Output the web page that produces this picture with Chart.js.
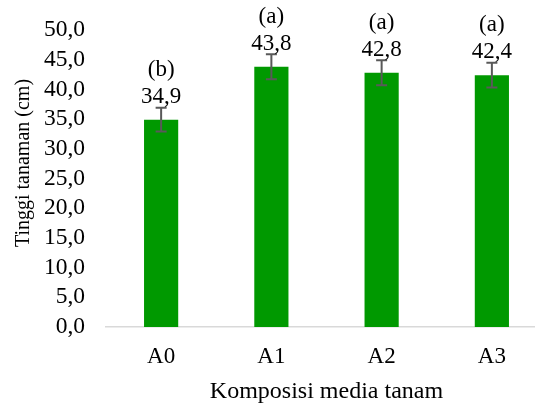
<!DOCTYPE html>
<html>
<head>
<meta charset="utf-8">
<script src="https://cdn.jsdelivr.net/npm/chart.js@4/dist/chart.umd.min.js"></script>
<style>
  body { margin: 0; background: #fff; overflow: hidden; }
  #wrap { width: 535px; height: 403px; overflow: hidden; }
</style>
</head>
<body>
<div id="wrap"><canvas id="heightChart" width="547" height="403"></canvas></div>
<script>
// data
const categories = ['A0', 'A1', 'A2', 'A3'];
const heights = [34.9, 43.8, 42.8, 42.4];
const errors = [2.0, 2.1, 2.1, 2.1];
const letters = ['(b)', '(a)', '(a)', '(a)'];
const yTitle = 'Tinggi tanaman (cm)';
const xTitle = 'Komposisi media tanam';

const serif = '"Liberation Serif", "Times New Roman", serif';
const comma = v => v.toFixed(1).replace('.', ',');

// error bars + labels above bars
const barExtras = {
    id: 'barExtras',
    afterDatasetsDraw(chart) {
        const ctx = chart.ctx;
        const y = chart.scales.y;
        const meta = chart.getDatasetMeta(0);
        ctx.save();
        ctx.strokeStyle = '#595959';
        ctx.lineWidth = 2;
        meta.data.forEach((bar, i) => {
            const top = y.getPixelForValue(heights[i] + errors[i]);
            const bot = y.getPixelForValue(heights[i] - errors[i]);
            ctx.beginPath();
            ctx.moveTo(bar.x, top); ctx.lineTo(bar.x, bot);
            ctx.moveTo(bar.x - 5.5, top); ctx.lineTo(bar.x + 5.5, top);
            ctx.moveTo(bar.x - 5.5, bot); ctx.lineTo(bar.x + 5.5, bot);
            ctx.stroke();
        });
        ctx.fillStyle = '#000';
        ctx.textAlign = 'center';
        ctx.textBaseline = 'alphabetic';
        ctx.font = '23px ' + serif;
        meta.data.forEach((bar, i) => {
            ctx.fillText(comma(heights[i]), bar.x, bar.y - 17);
            ctx.fillText(letters[i], bar.x, bar.y - 44);
        });
        // y axis title
        ctx.font = '20px ' + serif;
        ctx.textBaseline = 'middle';
        ctx.translate(24, 163);
        ctx.rotate(-Math.PI / 2);
        ctx.fillText(yTitle, 0, 0);
        ctx.restore();
    }
};

new Chart(document.getElementById('heightChart').getContext('2d'), {
    type: 'bar',
    data: {
        labels: categories,
        datasets: [{
            data: heights,
            backgroundColor: '#009900',
            borderWidth: 0,
            barPercentage: 0.31,
            categoryPercentage: 1
        }]
    },
    options: {
        responsive: false,
        animation: false,
        layout: { padding: { top: 30, left: 0, right: 0, bottom: 0 } },
        plugins: { legend: { display: false }, tooltip: { enabled: false } },
        scales: {
            x: {
                grid: { display: false, drawTicks: false },
                border: { display: true, color: '#d9d9d9', width: 1.5 },
                ticks: { color: '#000', padding: 16, font: { family: serif, size: 23 } },
                title: {
                    display: true, text: xTitle, color: '#000',
                    font: { family: serif, size: 24, lineHeight: 0.9 },
                    padding: 0
                },
                afterFit: s => { s.height = 76; s.paddingLeft = 0; s.paddingRight = 0; }
            },
            y: {
                min: 0, max: 50,
                grid: { display: false, drawTicks: false },
                border: { display: false },
                ticks: {
                    stepSize: 5, autoSkip: false, color: '#000', padding: 21,
                    font: { family: serif, size: 23.5 },
                    callback: v => comma(v)
                },
                afterFit: s => { s.width = 106; s.paddingTop = 0; s.paddingBottom = 0; }
            }
        }
    },
    plugins: [barExtras]
});
</script>
</body>
</html>
